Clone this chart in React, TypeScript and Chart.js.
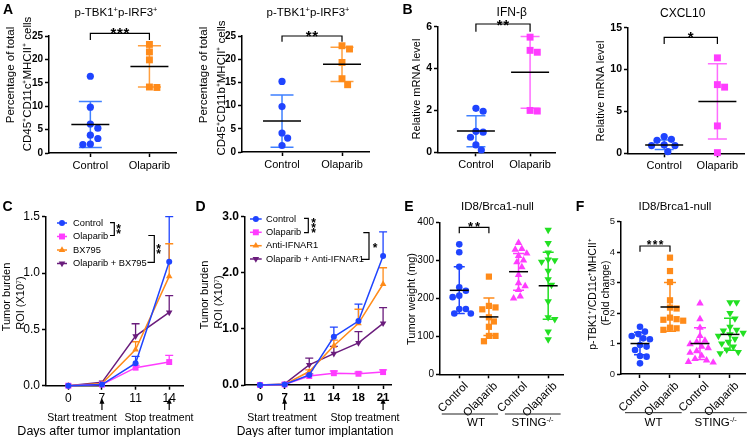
import React, { useEffect, useRef } from "react";
import { Chart, registerables } from "chart.js";

Chart.register(...registerables);

const FONT = '"Liberation Sans", Arial, Helvetica, sans-serif';
const W = 750;
const H = 437;

// ================= DATA =================
const abGroups = ["Control", "Olaparib"];

const a1Control = [16.4, 9.8, 6.2, 5.3, 3.8, 3.1, 1.9, 1.8];
const a1Olaparib = [23.2, 21.6, 19.9, 14.1, 14.0];
const a1Mean = [6.1, 18.5];
const a1Upper = [11.0, 22.9];
const a1Lower = [1.2, 14.1];

const a2Control = [15.2, 9.8, 4.1, 3.0, 1.4];
const a2Olaparib = [22.9, 22.2, 19.3, 15.8, 14.5];
const a2Mean = [6.7, 18.9];
const a2Upper = [12.3, 22.6];
const a2Lower = [1.0, 15.2];
const aTicks = [0, 5, 10, 15, 20, 25];

const b1Control = [2.1, 1.96, 1.0, 0.96, 0.72, 0.35, 0.11];
const b1Olaparib = [5.5, 4.87, 4.78, 2.0, 1.97];
const b1Mean = [1.02, 3.82];
const b1Upper = [1.75, 5.53];
const b1Lower = [0.27, 2.1];
const b1Ticks = [0, 2, 4, 6];

const b2Control = [2.0, 1.67, 1.55, 1.0, 0.92, 0.92, 0.2];
const b2Olaparib = [11.4, 8.2, 7.9, 3.27, 0.08];
const b2Mean = [1.0, 6.2];
const b2Upper = [1.6, 10.7];
const b2Lower = [0.44, 1.7];
const b2Ticks = [0, 5, 10, 15];

const cDays = ["0", "7", "11", "14"];
const cSeries = ["Control", "Olaparib", "BX795", "Olaparib + BX795"];
const cControl = [0, 0.01, 0.2, 1.1];
const cControlSD = [0, 0, 0.06, 0.4];
const cOlaparib = [0, 0.01, 0.16, 0.21];
const cOlaparibSD = [0, 0, 0.02, 0.06];
const cBX795 = [0, 0.02, 0.32, 0.97];
const cBX795SD = [0, 0, 0.07, 0.29];
const cCombo = [0, 0.03, 0.44, 0.65];
const cComboSD = [0, 0, 0.11, 0.15];
const cTicks = [0, 0.5, 1.0, 1.5];

const dDays = ["0", "7", "11", "14", "18", "21"];
const dSeries = ["Control", "Olaparib", "Anti-IFNAR1", "Olaparib + Anti-IFNAR1"];
const dControl = [0, 0.01, 0.18, 0.86, 1.14, 2.3];
const dControlSD = [0, 0, 0.02, 0.17, 0.3, 0.43];
const dOlaparib = [0, 0.01, 0.16, 0.21, 0.2, 0.23];
const dOlaparibSD = [0, 0, 0.02, 0.04, 0.03, 0.04];
const dAnti = [0, 0.01, 0.24, 0.7, 1.1, 1.8];
const dAntiSD = [0, 0, 0.03, 0.1, 0.25, 0.29];
const dCombo = [0, 0.02, 0.36, 0.56, 0.75, 1.1];
const dComboSD = [0, 0, 0.12, 0.13, 0.2, 0.28];
const dTicks = [0, 1, 2, 3];

const efGroups = ["Control", "Olaparib", "Control", "Olaparib"];
const eWtControl = [342, 321, 283, 229, 220, 207, 203, 172, 172, 160, 160];
const eWtOlaparib = [257, 180, 176, 171, 150, 139, 125, 101, 101, 87];
const eStingControl = [346, 330, 328, 318, 312, 300, 295, 282, 262, 240, 232, 222, 205, 200];
const eStingOlaparib = [380, 345, 320, 302, 300, 296, 272, 250, 235, 192, 150, 145, 112, 92];
const eMean = [221, 151, 270, 233];
const eUpper = [283, 201, 318, 321];
const eLower = [160, 102, 221, 145];
const eTicks = [0, 100, 200, 300, 400];

const fWtControl = [1.55, 1.39, 1.31, 1.25, 1.17, 1.14, 0.95, 0.9, 0.79, 0.59, 0.57, 0.35];
const fWtOlaparib = [3.82, 3.38, 3.02, 2.42, 2.18, 2.15, 1.85, 1.8, 1.78, 1.75, 1.52, 1.5, 1.45];
const fStingControl = [2.32, 1.8, 1.52, 1.25, 1.1, 1.05, 0.98, 0.9, 0.85, 0.75, 0.7, 0.6, 0.5, 0.45, 0.4, 0.38];
const fStingOlaparib = [2.35, 2.35, 2.0, 1.82, 1.55, 1.45, 1.42, 1.35, 1.3, 1.25, 1.15, 1.05, 1.0, 0.9, 0.8, 0.72, 0.68];
const fMean = [1.0, 2.2, 1.0, 1.3];
const fUpper = [1.37, 3.0, 1.52, 1.83];
const fLower = [0.63, 1.4, 0.48, 0.78];
const fTicks = [0, 1, 2, 3, 4, 5];

// ================= STYLE =================
const BLUE = "#1f44ff";
const BLUE_ERR = "#3f80ff";
const ORANGE = "#ff8b1a";
const ORANGE_ERR = "#ffa040";
const MAGENTA = "#ff3cff";
const MAGENTA_ERR = "#ff6cff";
const PURPLE = "#6a1c7c";
const GREEN = "#22e022";

type Shape = "circle" | "rect" | "triangle";
interface MarkStyle { color: string; err: string; shape: Shape; rot: number; r: number }
interface Geo { L: number; T: number; R: number; B: number; xMin: number; xMax: number }
interface TitleLine { text: string; x: number; y: number }

function swarm(values: number[], dxUnit: number, dyUnit: number): number[] {
  const order = values.map((_, i) => i).sort((a, b) => values[b] - values[a]);
  const placed: { x: number; y: number }[] = [];
  const out = new Array(values.length).fill(0);
  for (const i of order) {
    const y = values[i] / dyUnit;
    let best = 0;
    for (let k = 0; k < 60; k++) {
      const step = Math.ceil(k / 2) * 0.25;
      const cand = k === 0 ? 0 : k % 2 === 1 ? step : -step;
      if (placed.every((p) => Math.hypot(p.x - cand, p.y - y) >= 0.98)) { best = cand; break; }
    }
    placed.push({ x: best, y });
    out[i] = best * dxUnit;
  }
  return out;
}

function drawMarker(ctx: CanvasRenderingContext2D, st: MarkStyle, x: number, y: number) {
  ctx.save();
  ctx.fillStyle = st.color;
  ctx.beginPath();
  if (st.shape === "circle") ctx.arc(x, y, st.r, 0, Math.PI * 2);
  else if (st.shape === "rect") { const s = st.r * Math.SQRT1_2; ctx.rect(x - s, y - s, 2 * s, 2 * s); }
  else {
    let rad = (st.rot * Math.PI) / 180;
    for (let k = 0; k < 3; k++) {
      const px = x + Math.sin(rad) * st.r, py = y - Math.cos(rad) * st.r;
      if (k === 0) ctx.moveTo(px, py); else ctx.lineTo(px, py);
      rad += (2 * Math.PI) / 3;
    }
  }
  ctx.closePath();
  ctx.fill();
  ctx.restore();
}

function drawStars(ctx: CanvasRenderingContext2D, n: number, cx: number, cy: number, size: number, gap: number, vertical: boolean) {
  ctx.save();
  ctx.fillStyle = "#000";
  ctx.font = `bold ${size}px ${FONT}`;
  ctx.textAlign = "center";
  ctx.textBaseline = "alphabetic";
  for (let i = 0; i < n; i++) {
    const off = (i - (n - 1) / 2) * gap;
    const x = vertical ? cx : cx + off;
    const y = vertical ? cy + off : cy;
    ctx.fillText("*", x, y + 0.58 * size);
  }
  ctx.restore();
}

function drawYTitles(ctx: CanvasRenderingContext2D, lines: TitleLine[], size: number) {
  ctx.save();
  ctx.fillStyle = "#000";
  ctx.font = `${size}px ${FONT}`;
  ctx.textAlign = "center";
  ctx.textBaseline = "middle";
  for (const l of lines) {
    ctx.save();
    ctx.translate(l.x, l.y);
    ctx.rotate(-Math.PI / 2);
    ctx.fillText(l.text, 0, 0);
    ctx.restore();
  }
  ctx.restore();
}

const gridOpts = { drawOnChartArea: false, drawTicks: true, tickLength: 4, tickColor: "#000", tickWidth: 1.5 };
const borderOpts = { display: true, color: "#000", width: 1.5 };

interface YAxisOpts {
  L: number; max: number; ticks: number[]; fmt?: (v: number) => string;
  size: number; weight: string; color?: string;
  titles: TitleLine[]; titleSize: number;
}
function yAxis(o: YAxisOpts): any {
  return {
    type: "linear", min: 0, max: o.max, bounds: "data",
    afterFit: (s: any) => { s.width = o.L; },
    afterBuildTicks: (s: any) => { s.ticks = o.ticks.map((v) => ({ value: v })); },
    ticks: {
      font: { family: FONT, size: o.size, weight: o.weight }, color: o.color ?? "#000", padding: 2,
      callback: (v: number) => (o.fmt ? o.fmt(v) : String(v)),
    },
    grid: gridOpts, border: borderOpts,
    title: { display: false },
  };
}

interface XAxisOpts { B: number; min: number; max: number; cats: string[]; size: number; weight: string; rotate?: boolean; pad?: number; shift?: number }
function xAxis(o: XAxisOpts): any {
  return {
    type: "linear", min: o.min, max: o.max, bounds: "data",
    afterFit: (s: any) => { s.height = H - o.B; },
    afterBuildTicks: (s: any) => { s.ticks = o.cats.map((_, i) => ({ value: i })); },
    ticks: {
      font: { family: FONT, size: o.size, weight: o.weight }, color: "#000", padding: o.pad ?? 2,
      autoSkip: false, maxRotation: o.rotate ? 45 : 0, minRotation: o.rotate ? 45 : 0,
      labelOffset: o.shift ?? 0,
      callback: (v: number) => o.cats[v] ?? "",
    },
    grid: gridOpts, border: borderOpts,
  };
}

interface DotSpec {
  geo: Geo; y: Omit<YAxisOpts, "L">; x: Omit<XAxisOpts, "B" | "min" | "max">;
  series: number[][]; styles: MarkStyle[]; mean: number[]; upper: number[]; lower: number[];
  swarmD: number; meanHalf: number; capHalf: number;
  bracket: { from: number; to: number; top: number; leg: number; stars: number; starY: number; starSize: number; starGap: number };
  spans?: { from: number; to: number }[]; spanY?: number;
}

function baseOptions(g: Geo, x: any, y: any) {
  return {
    animation: false, responsive: false, events: [],
    layout: { padding: { left: 0, top: g.T, right: W - g.R, bottom: 0 } },
    plugins: { legend: { display: false }, tooltip: { enabled: false } },
    scales: { x, y },
  };
}

function dotChart(s: DotSpec): any {
  const g = s.geo;
  const pxX = (g.R - g.L) / (g.xMax - g.xMin);
  const pxY = (g.B - g.T) / s.y.max;
  const datasets = s.series.map((vals, gi) => {
    const st = s.styles[gi];
    const off = swarm(vals, s.swarmD / pxX, s.swarmD / pxY);
    return {
      data: vals.map((v, i) => ({ x: gi + off[i], y: v })),
      showLine: false, clip: false,
      pointStyle: st.shape, pointRotation: st.rot, pointRadius: st.r,
      pointBackgroundColor: st.color, pointBorderColor: st.color, pointBorderWidth: 0,
    };
  });
  const plugin = {
    id: "dotMarks",
    beforeDatasetsDraw(chart: any) {
      const ctx: CanvasRenderingContext2D = chart.ctx;
      const x = chart.scales.x, y = chart.scales.y;
      ctx.save();
      ctx.lineWidth = 1.5;
      s.mean.forEach((_, i) => {
        const px = x.getPixelForValue(i);
        const yu = y.getPixelForValue(s.upper[i]);
        const yl = y.getPixelForValue(s.lower[i]);
        ctx.strokeStyle = s.styles[i].err;
        ctx.beginPath();
        ctx.moveTo(px, yu); ctx.lineTo(px, yl);
        ctx.moveTo(px - s.capHalf, yu); ctx.lineTo(px + s.capHalf, yu);
        ctx.moveTo(px - s.capHalf, yl); ctx.lineTo(px + s.capHalf, yl);
        ctx.stroke();
      });
      ctx.restore();
    },
    afterDatasetsDraw(chart: any) {
      const ctx: CanvasRenderingContext2D = chart.ctx;
      const x = chart.scales.x, y = chart.scales.y;
      ctx.save();
      ctx.strokeStyle = "#000";
      ctx.lineWidth = 1.5;
      s.mean.forEach((m, i) => {
        const px = x.getPixelForValue(i), py = y.getPixelForValue(m);
        ctx.beginPath(); ctx.moveTo(px - s.meanHalf, py); ctx.lineTo(px + s.meanHalf, py); ctx.stroke();
      });
      const b = s.bracket;
      const x1 = x.getPixelForValue(b.from), x2 = x.getPixelForValue(b.to);
      ctx.lineWidth = 1.2;
      ctx.beginPath();
      ctx.moveTo(x1, b.leg); ctx.lineTo(x1, b.top); ctx.lineTo(x2, b.top); ctx.lineTo(x2, b.leg);
      ctx.stroke();
      drawStars(ctx, b.stars, (x1 + x2) / 2, b.starY, b.starSize, b.starGap, false);
      if (s.spans && s.spanY) {
        ctx.strokeStyle = "#222";
        ctx.lineWidth = 1;
        for (const sp of s.spans) {
          ctx.beginPath();
          ctx.moveTo(x.getPixelForValue(sp.from), s.spanY);
          ctx.lineTo(x.getPixelForValue(sp.to), s.spanY);
          ctx.stroke();
        }
      }
      drawYTitles(ctx, s.y.titles, s.y.titleSize);
      ctx.restore();
    },
  };
  return {
    type: "scatter",
    data: { datasets },
    options: baseOptions(g, xAxis({ ...s.x, B: g.B, min: g.xMin, max: g.xMax }), yAxis({ ...s.y, L: g.L })),
    plugins: [plugin],
  };
}

interface LineSeries { label: string; values: number[]; sd: number[]; st: MarkStyle }
interface LineSpec {
  geo: Geo; y: Omit<YAxisOpts, "L">; x: Omit<XAxisOpts, "B" | "min" | "max">;
  series: LineSeries[];
  legend: { x: number; rows: number[]; lineLen: number; textX: number; size: number };
  brackets: { x: number; yTop: number; yBot: number; xTop: number; xBot: number; stars: number; sx: number; sy: number; sSize: number; sGap: number }[];
  arrows: number[]; arrowTop: number; arrowBottom: number;
}

function lineChart(s: LineSpec): any {
  const g = s.geo;
  const datasets = s.series.map((se) => ({
    label: se.label,
    data: se.values.map((v, i) => ({ x: i, y: v })),
    showLine: true, clip: false,
    borderColor: se.st.color, borderWidth: 1.5,
    pointStyle: se.st.shape, pointRotation: se.st.rot, pointRadius: se.st.r,
    pointBackgroundColor: se.st.color, pointBorderColor: se.st.color, pointBorderWidth: 0,
  }));
  const plugin = {
    id: "lineMarks",
    beforeDatasetsDraw(chart: any) {
      const ctx: CanvasRenderingContext2D = chart.ctx;
      const x = chart.scales.x, y = chart.scales.y;
      ctx.save();
      ctx.lineWidth = 1.3;
      s.series.forEach((se) => {
        ctx.strokeStyle = se.st.color;
        se.values.forEach((v, i) => {
          if (!se.sd[i]) return;
          const px = x.getPixelForValue(i);
          const y0 = y.getPixelForValue(v), y1 = y.getPixelForValue(v + se.sd[i]);
          ctx.beginPath();
          ctx.moveTo(px, y0); ctx.lineTo(px, y1);
          ctx.moveTo(px - 4, y1); ctx.lineTo(px + 4, y1);
          ctx.stroke();
        });
      });
      ctx.restore();
    },
    afterDraw(chart: any) {
      const ctx: CanvasRenderingContext2D = chart.ctx;
      const x = chart.scales.x;
      ctx.save();
      const lg = s.legend;
      s.series.forEach((se, i) => {
        const yy = lg.rows[i];
        ctx.strokeStyle = se.st.color;
        ctx.lineWidth = 1.5;
        ctx.beginPath(); ctx.moveTo(lg.x, yy); ctx.lineTo(lg.x + lg.lineLen, yy); ctx.stroke();
        drawMarker(ctx, se.st, lg.x + lg.lineLen / 2, yy);
        ctx.fillStyle = "#000";
        ctx.font = `${lg.size}px ${FONT}`;
        ctx.textAlign = "left";
        ctx.textBaseline = "middle";
        ctx.fillText(se.label, lg.textX, yy);
      });
      ctx.strokeStyle = "#000";
      ctx.lineWidth = 1.2;
      for (const b of s.brackets) {
        ctx.beginPath();
        ctx.moveTo(b.xTop, b.yTop); ctx.lineTo(b.x, b.yTop); ctx.lineTo(b.x, b.yBot); ctx.lineTo(b.xBot, b.yBot);
        ctx.stroke();
        drawStars(ctx, b.stars, b.sx, b.sy, b.sSize, b.sGap, true);
      }
      ctx.fillStyle = "#000";
      ctx.lineWidth = 1.2;
      for (const a of s.arrows) {
        const px = x.getPixelForValue(a);
        ctx.beginPath(); ctx.moveTo(px, s.arrowBottom); ctx.lineTo(px, s.arrowTop + 4); ctx.stroke();
        ctx.beginPath(); ctx.moveTo(px, s.arrowTop); ctx.lineTo(px - 2.5, s.arrowTop + 5.5); ctx.lineTo(px + 2.5, s.arrowTop + 5.5); ctx.closePath(); ctx.fill();
      }
      drawYTitles(ctx, s.y.titles, s.y.titleSize);
      ctx.restore();
    },
  };
  return {
    type: "scatter",
    data: { datasets },
    options: baseOptions(g, xAxis({ ...s.x, B: g.B, min: g.xMin, max: g.xMax }), yAxis({ ...s.y, L: g.L })),
    plugins: [plugin],
  };
}

// ================= PANELS =================
const stA = [
  { color: BLUE, err: BLUE_ERR, shape: "circle" as Shape, rot: 0, r: 3.6 },
  { color: ORANGE, err: ORANGE_ERR, shape: "rect" as Shape, rot: 0, r: 4.9 },
];
const stB = [
  { color: BLUE, err: BLUE_ERR, shape: "circle" as Shape, rot: 0, r: 3.6 },
  { color: MAGENTA, err: MAGENTA_ERR, shape: "rect" as Shape, rot: 0, r: 4.9 },
];
const stEF = [
  { color: BLUE, err: BLUE, shape: "circle" as Shape, rot: 0, r: 3.3 },
  { color: ORANGE, err: ORANGE, shape: "rect" as Shape, rot: 0, r: 4.4 },
  { color: MAGENTA, err: MAGENTA, shape: "triangle" as Shape, rot: 0, r: 4.3 },
  { color: GREEN, err: GREEN, shape: "triangle" as Shape, rot: 180, r: 4.3 },
];
const stLine = [
  { color: BLUE, err: BLUE, shape: "circle" as Shape, rot: 0, r: 3 },
  { color: MAGENTA, err: MAGENTA, shape: "rect" as Shape, rot: 0, r: 4.2 },
  { color: ORANGE, err: ORANGE, shape: "triangle" as Shape, rot: 0, r: 3.8 },
  { color: PURPLE, err: PURPLE, shape: "triangle" as Shape, rot: 180, r: 3.8 },
];

const cfgA1 = () => dotChart({
  geo: { L: 49, T: 36, R: 176, B: 153, xMin: -0.7, xMax: 1.45 },
  y: { max: 25, ticks: aTicks, size: 10, weight: "bold", titleSize: 11.5,
    titles: [{ text: "Percentage of total", x: 10.5, y: 75 }, { text: "CD45⁺CD11c⁺MHCII⁺ cells", x: 28, y: 84 }] },
  x: { cats: abGroups, size: 11, weight: "normal" },
  series: [a1Control, a1Olaparib], styles: stA, mean: a1Mean, upper: a1Upper, lower: a1Lower,
  swarmD: 7.5, meanHalf: 19, capHalf: 11.5,
  bracket: { from: 0, to: 1, top: 33.3, leg: 40, stars: 3, starY: 29.5, starSize: 15, starGap: 6.5 },
});
const cfgA2 = () => dotChart({
  geo: { L: 242, T: 36, R: 369, B: 152, xMin: -0.667, xMax: 1.45 },
  y: { max: 25, ticks: aTicks, size: 10, weight: "bold", titleSize: 11.5,
    titles: [{ text: "Percentage of total", x: 203.5, y: 75 }, { text: "CD45⁺CD11b⁺MHCII⁺ cells", x: 221.5, y: 88 }] },
  x: { cats: abGroups, size: 11, weight: "normal" },
  series: [a2Control, a2Olaparib], styles: stA, mean: a2Mean, upper: a2Upper, lower: a2Lower,
  swarmD: 7.5, meanHalf: 19, capHalf: 11.5,
  bracket: { from: 0, to: 1, top: 36, leg: 41.7, stars: 2, starY: 32, starSize: 15, starGap: 6.5 },
});
const cfgB1 = () => dotChart({
  geo: { L: 438, T: 26.7, R: 555, B: 152.3, xMin: -0.7, xMax: 1.46 },
  y: { max: 6, ticks: b1Ticks, size: 10.5, weight: "bold", titleSize: 11,
    titles: [{ text: "Relative mRNA level", x: 416.7, y: 89 }] },
  x: { cats: abGroups, size: 11, weight: "normal" },
  series: [b1Control, b1Olaparib], styles: stB, mean: b1Mean, upper: b1Upper, lower: b1Lower,
  swarmD: 7.2, meanHalf: 19, capHalf: 9.5,
  bracket: { from: 0, to: 1, top: 24, leg: 31.7, stars: 2, starY: 21, starSize: 15, starGap: 6.5 },
});
const cfgB2 = () => dotChart({
  geo: { L: 628, T: 27.7, R: 744, B: 153.3, xMin: -0.68, xMax: 1.5 },
  y: { max: 15, ticks: b2Ticks, size: 10.5, weight: "bold", titleSize: 11,
    titles: [{ text: "Relative mRNA level", x: 600.7, y: 91 }] },
  x: { cats: abGroups, size: 11, weight: "normal" },
  series: [b2Control, b2Olaparib], styles: stB, mean: b2Mean, upper: b2Upper, lower: b2Lower,
  swarmD: 7.2, meanHalf: 19, capHalf: 9.5,
  bracket: { from: 0, to: 1, top: 37.3, leg: 44, stars: 1, starY: 33.5, starSize: 15, starGap: 6.5 },
});
const cfgE = () => dotChart({
  geo: { L: 440, T: 222.3, R: 563, B: 374.3, xMin: -0.65, xMax: 3.5 },
  y: { max: 400, ticks: eTicks, size: 10, weight: "normal", titleSize: 11,
    titles: [{ text: "Tumor weight (mg)", x: 411.7, y: 299 }] },
  x: { cats: efGroups, size: 11.5, weight: "normal", rotate: true, pad: 1, shift: 7 },
  series: [eWtControl, eWtOlaparib, eStingControl, eStingOlaparib], styles: stEF, mean: eMean, upper: eUpper, lower: eLower,
  swarmD: 6.6, meanHalf: 9.5, capHalf: 5.5,
  bracket: { from: 0, to: 1, top: 227.3, leg: 233.3, stars: 2, starY: 223, starSize: 13, starGap: 7 },
  spans: [{ from: -0.59, to: 1.31 }, { from: 1.54, to: 3.42 }], spanY: 414,
});
const cfgF = () => dotChart({
  geo: { L: 621, T: 221.7, R: 745, B: 374, xMin: -0.633, xMax: 3.5 },
  y: { max: 5, ticks: fTicks, size: 9.5, weight: "normal", color: "#222", titleSize: 10.5,
    titles: [{ text: "p-TBK1⁺/CD11c⁺MHCII⁺", x: 592.7, y: 294 }, { text: "(Fold change)", x: 606.5, y: 293 }] },
  x: { cats: efGroups, size: 11.5, weight: "normal", rotate: true, pad: 1, shift: 7 },
  series: [fWtControl, fWtOlaparib, fStingControl, fStingOlaparib], styles: stEF, mean: fMean, upper: fUpper, lower: fLower,
  swarmD: 6.6, meanHalf: 9.5, capHalf: 6,
  bracket: { from: 0, to: 1, top: 246, leg: 251.7, stars: 3, starY: 242, starSize: 12, starGap: 6 },
  spans: [{ from: -0.5, to: 1.39 }, { from: 1.67, to: 3.56 }], spanY: 412.7,
});

const cfgC = () => lineChart({
  geo: { L: 46, T: 216.7, R: 183, B: 385.7, xMin: -0.664, xMax: 3.41 },
  y: { max: 1.5, ticks: cTicks, fmt: (v) => v.toFixed(1), size: 12, weight: "normal", titleSize: 11,
    titles: [{ text: "Tumor burden", x: 6.5, y: 297 }, { text: "ROI (X10⁷)", x: 20.5, y: 303 }] },
  x: { cats: cDays, size: 12, weight: "normal" },
  series: [
    { label: cSeries[0], values: cControl, sd: cControlSD, st: stLine[0] },
    { label: cSeries[1], values: cOlaparib, sd: cOlaparibSD, st: stLine[1] },
    { label: cSeries[2], values: cBX795, sd: cBX795SD, st: stLine[2] },
    { label: cSeries[3], values: cCombo, sd: cComboSD, st: stLine[3] },
  ],
  legend: { x: 57, rows: [223, 236.5, 250, 263.5], lineLen: 10, textX: 73, size: 9.3 },
  brackets: [
    { x: 114.3, yTop: 222.7, yBot: 235.5, xTop: 110, xBot: 110, stars: 2, sx: 118.5, sy: 228.5, sSize: 12, sGap: 5.5 },
    { x: 154.3, yTop: 235.5, yBot: 262.3, xTop: 148.3, xBot: 147.5, stars: 2, sx: 158.5, sy: 248.5, sSize: 12, sGap: 5.5 },
  ],
  arrows: [1, 3], arrowTop: 398.3, arrowBottom: 410,
});
const cfgD = () => lineChart({
  geo: { L: 245, T: 216.7, R: 391.7, B: 385, xMin: -0.61, xMax: 5.35 },
  y: { max: 3, ticks: dTicks, fmt: (v) => v.toFixed(1), size: 12, weight: "bold", titleSize: 11,
    titles: [{ text: "Tumor burden", x: 205, y: 295 }, { text: "ROI (X10⁷)", x: 219.3, y: 302 }] },
  x: { cats: dDays, size: 11.5, weight: "bold" },
  series: [
    { label: dSeries[0], values: dControl, sd: dControlSD, st: stLine[0] },
    { label: dSeries[1], values: dOlaparib, sd: dOlaparibSD, st: stLine[1] },
    { label: dSeries[2], values: dAnti, sd: dAntiSD, st: stLine[2] },
    { label: dSeries[3], values: dCombo, sd: dComboSD, st: stLine[3] },
  ],
  legend: { x: 250, rows: [219, 232.3, 245.7, 259], lineLen: 11.7, textX: 266, size: 9.3 },
  brackets: [
    { x: 308.3, yTop: 218.3, yBot: 232.7, xTop: 304, xBot: 304, stars: 3, sx: 313.5, sy: 225.5, sSize: 12, sGap: 5 },
    { x: 369, yTop: 232.7, yBot: 259.3, xTop: 363.3, xBot: 361, stars: 1, sx: 375, sy: 245, sSize: 12, sGap: 5 },
  ],
  arrows: [1, 5], arrowTop: 398.3, arrowBottom: 410,
});

function ChartCanvas({ make }: { make: () => any }) {
  const ref = useRef<HTMLCanvasElement>(null);
  useEffect(() => {
    const chart = new Chart(ref.current as HTMLCanvasElement, make());
    return () => chart.destroy();
  }, []);
  return <canvas ref={ref} width={W} height={H} style={{ position: "absolute", left: 0, top: 0, width: W, height: H }} />;
}

function T({ x, y, size = 11, bold = false, children }: { x: number; y: number; size?: number; bold?: boolean; children: React.ReactNode }) {
  return (
    <div style={{ position: "absolute", left: x, top: y, transform: "translate(-50%, -50%)", whiteSpace: "nowrap", fontFamily: FONT, fontSize: size, fontWeight: bold ? "bold" : "normal", color: "#000", lineHeight: 1 }}>
      {children}
    </div>
  );
}

const sup: React.CSSProperties = { fontSize: "0.65em", verticalAlign: "0.55em", lineHeight: 0 };

export default function App() {
  return (
    <div style={{ position: "absolute", left: 0, top: 0, width: W, height: H, background: "#fff", overflow: "hidden" }}>
      <ChartCanvas make={cfgA1} />
      <ChartCanvas make={cfgA2} />
      <ChartCanvas make={cfgB1} />
      <ChartCanvas make={cfgB2} />
      <ChartCanvas make={cfgC} />
      <ChartCanvas make={cfgD} />
      <ChartCanvas make={cfgE} />
      <ChartCanvas make={cfgF} />

      <T x={8} y={9} size={14} bold>A</T>
      <T x={407.5} y={9} size={14} bold>B</T>
      <T x={7.5} y={205.5} size={14} bold>C</T>
      <T x={200.5} y={205.5} size={14} bold>D</T>
      <T x={409} y={205.5} size={14} bold>E</T>
      <T x={580} y={205.5} size={14} bold>F</T>

      <T x={116} y={13} size={11.5}>p-TBK1<span style={sup}>+</span>p-IRF3<span style={sup}>+</span></T>
      <T x={308} y={13} size={11.5}>p-TBK1<span style={sup}>+</span>p-IRF3<span style={sup}>+</span></T>
      <T x={511.7} y={12} size={12}>IFN-β</T>
      <T x={682.7} y={12.5} size={12}>CXCL10</T>
      <T x={497.5} y={206.7} size={11.5}>ID8/Brca1-null</T>
      <T x={675} y={206.7} size={11.5}>ID8/Brca1-null</T>

      <T x={82} y={416.7} size={10.5}>Start treatment</T>
      <T x={159} y={416.7} size={10.5}>Stop treatment</T>
      <T x={99} y={430.5} size={12.5}>Days after tumor implantation</T>
      <T x={282} y={416.7} size={10.5}>Start treatment</T>
      <T x={365} y={416.7} size={10.5}>Stop treatment</T>
      <T x={315} y={430.5} size={12}>Days after tumor implantation</T>

      <T x={476} y={423} size={11.5}>WT</T>
      <T x={532.5} y={423} size={11.5}>STING<span style={sup}>-/-</span></T>
      <T x={653.5} y={423} size={11.5}>WT</T>
      <T x={715.7} y={423} size={11.5}>STING<span style={sup}>-/-</span></T>
    </div>
  );
}
